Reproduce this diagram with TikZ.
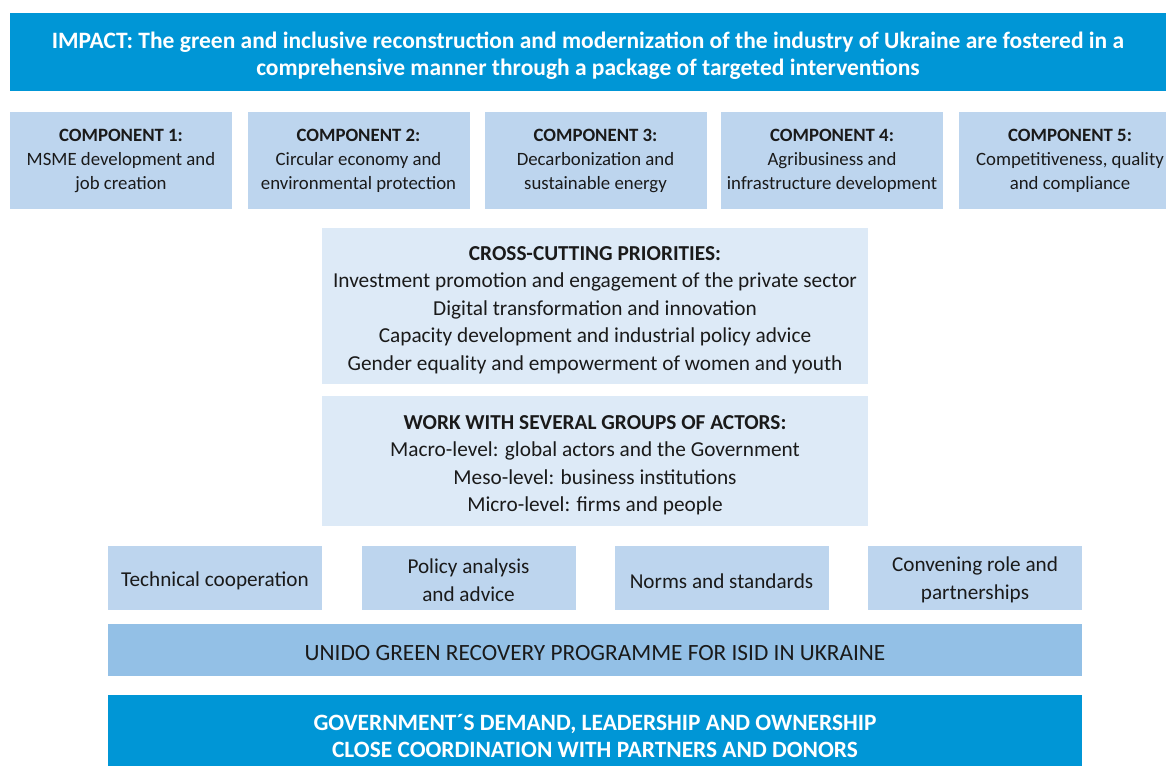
\documentclass[tikz,border=0pt]{standalone}
\usepackage{fontspec}
\setmainfont{Carlito}
\definecolor{dblue}{HTML}{0096D6}
\definecolor{compc}{HTML}{BDD5EE}
\definecolor{crossc}{HTML}{DDEAF7}
\definecolor{barc}{HTML}{93C0E6}
\definecolor{txt}{HTML}{1A1A1A}
\begin{document}
\begin{tikzpicture}[x=1pt,y=-1pt,
  base/.style={rectangle, inner sep=0pt, align=center, text=txt},
  impactbox/.style={base, fill=dblue, minimum width=1156pt, minimum height=78pt},
  impacttxt/.style={base, text=white, font=\fontsize{23.5}{27}\selectfont\bfseries},
  compbox/.style={base, fill=compc, minimum width=222pt, minimum height=97pt, font=\fontsize{18.8}{24}\selectfont},
  crossbox/.style={base, fill=crossc, minimum width=546pt},
  crosstxt/.style={base, font=\fontsize{21.3}{27.5}\selectfont},
  modebox/.style={base, fill=compc, minimum width=214pt, minimum height=64pt},
  modetxt/.style={base, font=\fontsize{21.2}{27.5}\selectfont},
  progbar/.style={base, fill=barc, minimum width=974pt, minimum height=52pt},
  progtxt/.style={base, font=\fontsize{23.3}{24}\selectfont},
  govbar/.style={base, fill=dblue, minimum width=974pt, minimum height=71pt},
  govtxt/.style={base, text=white, font=\fontsize{23.4}{27}\selectfont\bfseries}
]
\useasboundingbox (0,0) rectangle (1166,766);
% impact
\node[impactbox] (impact) at (588,52) {};
\node[impacttxt] (impactt) at ([yshift=-4pt]impact.center)
  {IMPACT: The green and inclusive reconstruction and modernization of the industry of Ukraine are fostered in a\\comprehensive manner through a package of targeted interventions};
% components
\node[compbox] (c1) at (121,160.5) {\textbf{COMPONENT 1:}\\MSME development and\\job creation};
\node[compbox] (c2) at (358.5,160.5) {\textbf{COMPONENT 2:}\\Circular economy and\\environmental protection};
\node[compbox] (c3) at (595.5,160.5) {\textbf{COMPONENT 3:}\\Decarbonization and\\sustainable energy};
\node[compbox] (c4) at (832,160.5) {\textbf{COMPONENT 4:}\\Agribusiness and\\infrastructure development};
\node[compbox] (c5) at (1070,160.5) {\textbf{COMPONENT 5:}\\Competitiveness, quality\\and compliance};
% cross-cutting
\node[crossbox, minimum height=156pt] (cross) at (595,306) {};
\node[crosstxt] (crosst) at ([yshift=-4pt]cross.center)
  {\textbf{CROSS-CUTTING PRIORITIES:}\\Investment promotion and engagement of the private sector\\Digital transformation and innovation\\Capacity development and industrial policy advice\\Gender equality and empowerment of women and youth};
\node[crossbox, minimum height=130pt] (work) at (595,461) {};
\node[crosstxt] (workt) at ([yshift=-4pt]work.center)
  {\textbf{WORK WITH SEVERAL GROUPS OF ACTORS:}\\Macro-level: global actors and the Government\\Meso-level: business institutions\\Micro-level: firms and people};
% modes
\node[modebox] (m1) at (215,578) {};
\node[modetxt] (m1t) at ([yshift=-3pt]m1.center) {Technical cooperation};
\node[modebox] (m2) at (468.5,578) {};
\node[modetxt] (m2t) at ([yshift=-2pt]m2.center) {Policy analysis\\and advice};
\node[modebox] (m3) at (721.5,578) {};
\node[modetxt] (m3t) at ([yshift=-3pt]m3.center) {Norms and standards};
\node[modebox] (m4) at (975,578) {};
\node[modetxt] (m4t) at ([yshift=-2pt]m4.center) {Convening role and\\partnerships};
% programme
\node[progbar] (prog) at (595,650) {};
\node[progtxt] (progt) at ([yshift=-3pt]prog.center) {UNIDO GREEN RECOVERY PROGRAMME FOR ISID IN UKRAINE};
% government
\node[govbar] (gov) at (595,730.5) {};
\node[govtxt] (govt) at (595,736) {GOVERNMENT´S DEMAND, LEADERSHIP AND OWNERSHIP\\CLOSE COORDINATION WITH PARTNERS AND DONORS};
\end{tikzpicture}
\end{document}
